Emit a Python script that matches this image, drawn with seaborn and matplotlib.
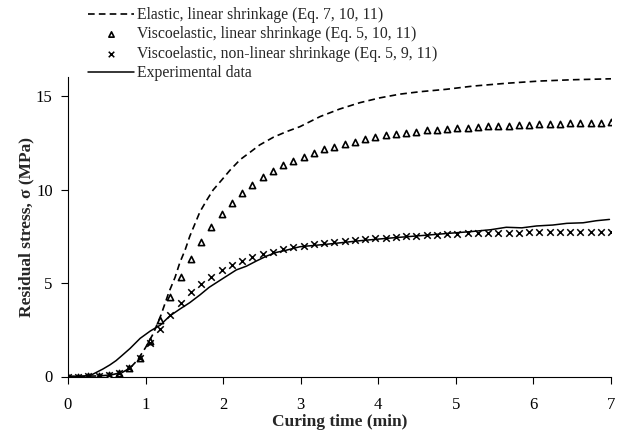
import numpy as np
import pandas as pd
import matplotlib
matplotlib.use("Agg")
import matplotlib.pyplot as plt
import seaborn as sns

# ---- data ----
marker_time = [0.0, 0.132, 0.264, 0.396, 0.528, 0.660, 0.792, 0.925, 1.057, 1.189,
               1.321, 1.453, 1.585, 1.717, 1.849, 1.981, 2.113, 2.245, 2.377, 2.509,
               2.642, 2.774, 2.906, 3.038, 3.170, 3.302, 3.434, 3.566, 3.698, 3.830,
               3.962, 4.094, 4.226, 4.358, 4.491, 4.623, 4.755, 4.887, 5.019, 5.151,
               5.283, 5.415, 5.547, 5.679, 5.811, 5.943, 6.075, 6.208, 6.340, 6.472,
               6.604, 6.736, 6.868, 7.0]

visco_linear = [0, 0, 0.01, 0.05, 0.08, 0.17, 0.45, 1.0, 1.9, 3.0,
                4.25, 5.3, 6.3, 7.2, 8.0, 8.7, 9.3, 9.8, 10.24, 10.65,
                11.0, 11.3, 11.55, 11.75, 11.95, 12.15, 12.29, 12.43, 12.56, 12.68,
                12.79, 12.9, 12.97, 13.04, 13.1, 13.16, 13.2, 13.25, 13.28, 13.31,
                13.34, 13.37, 13.39, 13.42, 13.44, 13.46, 13.48, 13.50, 13.52, 13.53,
                13.55, 13.56, 13.57, 13.6]

visco_nonlinear = [0, 0, 0.01, 0.05, 0.08, 0.17, 0.43, 1.0, 1.8, 2.55,
                   3.3, 3.95, 4.5, 4.97, 5.34, 5.7, 5.96, 6.18, 6.37, 6.53,
                   6.67, 6.8, 6.9, 7.0, 7.07, 7.14, 7.2, 7.26, 7.32, 7.36,
                   7.40, 7.43, 7.46, 7.49, 7.52, 7.55, 7.58, 7.61, 7.63, 7.65,
                   7.66, 7.67, 7.68, 7.69, 7.70, 7.71, 7.71, 7.72, 7.72, 7.73,
                   7.73, 7.74, 7.74, 7.75]

elastic_time = [0, 0.4, 0.55, 0.7, 0.8, 0.9, 1.0, 1.1, 1.2, 1.3, 1.38, 1.44, 1.51,
                1.57, 1.64, 1.70, 1.79, 1.87, 1.98, 2.09, 2.22, 2.35, 2.47, 2.65,
                2.82, 2.99, 3.25, 3.5, 3.76, 4.02, 4.28, 4.54, 4.88, 5.22, 5.65,
                6.08, 6.51, 7.0]
elastic_stress = [0, 0.03, 0.08, 0.22, 0.45, 0.9, 1.55, 2.3, 3.3, 4.5, 5.3, 6.07,
                  6.77, 7.5, 8.2, 8.8, 9.44, 9.97, 10.5, 11.04, 11.6, 12.0, 12.38,
                  12.8, 13.1, 13.36, 13.9, 14.3, 14.64, 14.9, 15.1, 15.23, 15.36,
                  15.53, 15.68, 15.8, 15.87, 15.92]

exp_time = [0, 0.2, 0.3, 0.38, 0.45, 0.54, 0.62, 0.69, 0.8, 0.93, 1.06, 1.19, 1.31,
            1.44, 1.57, 1.70, 1.82, 2.0, 2.17, 2.3, 2.43, 2.56, 2.69, 2.82, 2.99,
            3.33, 3.76, 4.2, 4.6, 4.92, 5.2, 5.45, 5.65, 5.85, 6.04, 6.25, 6.43,
            6.64, 6.81, 6.98]
exp_stress = [0, 0.02, 0.08, 0.25, 0.4, 0.62, 0.85, 1.1, 1.5, 2.04, 2.43, 2.75,
              3.23, 3.6, 3.95, 4.36, 4.77, 5.25, 5.7, 5.9, 6.18, 6.44, 6.64, 6.76,
              6.94, 7.07, 7.26, 7.42, 7.55, 7.66, 7.75, 7.85, 7.98, 7.95, 8.05,
              8.1, 8.19, 8.22, 8.33, 8.4]

x_ticks = [0, 1, 2, 3, 4, 5, 6, 7]
y_ticks = [0, 5, 10, 15]

labels = ["Elastic, linear shrinkage (Eq. 7, 10, 11)",
          "Viscoelastic, linear shrinkage (Eq. 5, 10, 11)",
          "Viscoelastic, non-linear shrinkage (Eq. 5, 9, 11)",
          "Experimental data"]

# ---- plot ----
sns.set_style("ticks")
plt.rcParams['font.family'] = ['Liberation Serif', 'DejaVu Serif']

fig = plt.figure(figsize=(6.21, 4.32), dpi=100)
ax = fig.add_axes([68/621, 1 - 376.5/432, (611-68)/621, (376.5-77.3)/432])

df_el = pd.DataFrame({"t": elastic_time, "s": elastic_stress})
df_ex = pd.DataFrame({"t": exp_time, "s": exp_stress})
df_m = pd.DataFrame({"t": marker_time, "vl": visco_linear, "vn": visco_nonlinear})

sns.lineplot(data=df_el, x="t", y="s", ax=ax, color="black", lw=1.2,
             linestyle=(0, (4, 2.5)), label=labels[0], sort=False)
sns.scatterplot(data=df_m, x="t", y="vl", ax=ax, marker="^", s=20,
                facecolor="white", edgecolor="black", linewidth=1.2,
                label=labels[1], zorder=3)
sns.scatterplot(data=df_m, x="t", y="vn", ax=ax, marker="x", s=22,
                color="black", linewidth=1.1, label=labels[2], zorder=3)
sns.lineplot(data=df_ex, x="t", y="s", ax=ax, color="black", lw=1.1,
             label=labels[3], sort=False)

ax.set_xlim(0, 7)
ax.set_ylim(0, 16)
ax.set_xticks(x_ticks)
ax.set_yticks(y_ticks)
ax.tick_params(direction="out", length=5, width=0.8, labelsize=12, colors="black")
ax.tick_params(axis="x", pad=9.5)
ax.tick_params(axis="y", pad=6)
for sp in ["top", "right"]:
    ax.spines[sp].set_visible(False)
for sp in ["left", "bottom"]:
    ax.spines[sp].set_linewidth(0.8)
    ax.spines[sp].set_color("black")

ax.set_xlabel("Curing time (min)", fontsize=12.5, fontweight="bold", labelpad=1)
ax.set_ylabel("Residual stress, \u03c3 (MPa)", fontsize=12.5, fontweight="bold", labelpad=1)

handles, lbls = ax.get_legend_handles_labels()
ax.get_legend().remove()
fig.legend(handles, lbls, loc="upper left", bbox_to_anchor=(88/621, 1 - 7/432),
           frameon=False, fontsize=11.3, handlelength=2.95, handletextpad=0.15,
           labelspacing=0.22, borderpad=0, borderaxespad=0, markerscale=0.85)

fig.savefig("out.png", dpi=100)
